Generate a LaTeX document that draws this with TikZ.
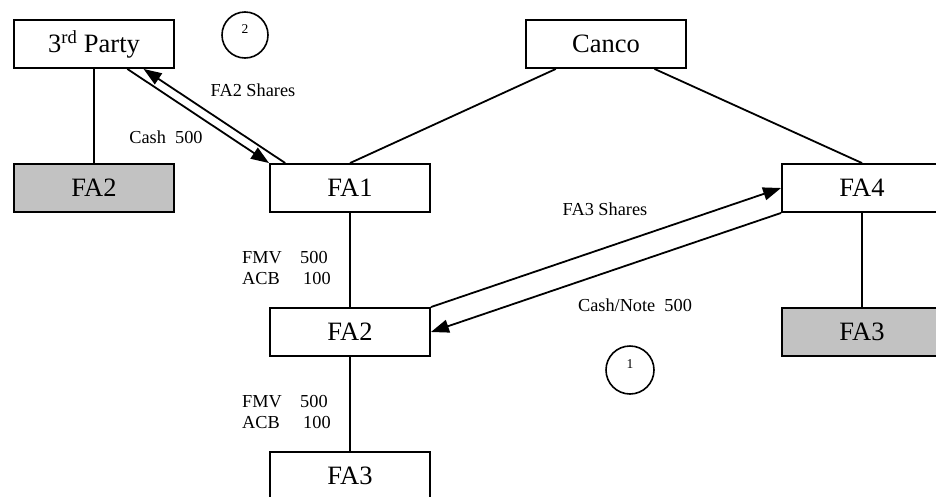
\documentclass[tikz,border=0pt]{standalone}
\usepackage{fontspec}
\setmainfont{Liberation Serif}
\usetikzlibrary{arrows.meta,calc}
\begin{document}
\begin{tikzpicture}[x=1pt,y=-1pt,
  box/.style={draw=black,line width=1.9pt,minimum width=160pt,minimum height=48pt,inner sep=0pt,font=\fontsize{26.5}{30}\selectfont,fill=white},
  shbox/.style={box,fill=black!24},
  lbl/.style={inner sep=0pt,font=\fontsize{18.3}{20}\selectfont},
  conn/.style={line width=1.8pt},
  arr/.style={conn,-{Triangle[length=18pt,width=13pt]}},
  num/.style={draw=black,line width=1.6pt,circle,inner sep=0pt},
  numtxt/.style={inner sep=0pt,font=\fontsize{13.5}{15}\selectfont}]
\clip (0,0) rectangle (936,496);
\fill[white] (0,0) rectangle (936,496);
% boxes
\node[box] (tp) at (94,44) {3\textsuperscript{rd} Party};
\node[box] (canco) at (606,44) {Canco};
\node[shbox] (fa2l) at (94,188) {FA2};
\node[box] (fa1) at (350,188) {FA1};
\node[box] (fa4) at (862,188) {FA4};
\node[box] (fa2) at (350,332) {FA2};
\node[shbox] (fa3r) at (862,332) {FA3};
\node[box] (fa3) at (350,476) {FA3};
% circles
\node[num,minimum size=46pt] (c2) at (245,35) {};
\node[numtxt] (c2t) at (245,29) {2};
\node[num,minimum size=48pt] (c1) at (630,370) {};
\node[numtxt] (c1t) at (630,364) {1};
% ownership lines
\draw[conn] (tp.south) -- (fa2l.north);
\draw[conn] (fa1.south) -- (fa2.north);
\draw[conn] (fa2.south) -- (fa3.north);
\draw[conn] (fa4.south) -- (fa3r.north);
\coordinate (ca) at ($(canco.south west)!0.19!(canco.south east)$);
\coordinate (cb) at ($(canco.south west)!0.8!(canco.south east)$);
\draw[conn] (fa1.north) -- (ca);
\draw[conn] (cb) -- (fa4.north);
% transfers
\coordinate (tpa) at ($(tp.south west)!0.706!(tp.south east)$);
\coordinate (tpb) at ($(tp.south west)!0.806!(tp.south east)$);
\coordinate (fa1b) at ($(fa1.north west)!0.1!(fa1.north east)$);
\draw[arr] (tpa) -- (fa1.north west);
\draw[arr] (fa1b) -- (tpb);
\draw[arr] (fa2.north east) -- (fa4.west);
\draw[arr] (fa4.south west) -- (fa2.east);
% labels
\node[lbl] (l1) at (253,90) {FA2 Shares};
\node[lbl] (l2) at (166,137) {Cash\ \ 500};
\node[lbl] (l3) at (605,209) {FA3 Shares};
\node[lbl] (l4) at (635,305) {Cash/Note\ \ 500};
\node[lbl,anchor=base west] (f1) at (242,263) {FMV};
\node[lbl,anchor=base west] (f1v) at (300,263) {500};
\node[lbl,anchor=base west] (a1) at (242,284) {ACB};
\node[lbl,anchor=base west] (a1v) at (303,284) {100};
\node[lbl,anchor=base west] (f2) at (242,407) {FMV};
\node[lbl,anchor=base west] (f2v) at (300,407) {500};
\node[lbl,anchor=base west] (a2) at (242,428) {ACB};
\node[lbl,anchor=base west] (a2v) at (303,428) {100};
\end{tikzpicture}
\end{document}
